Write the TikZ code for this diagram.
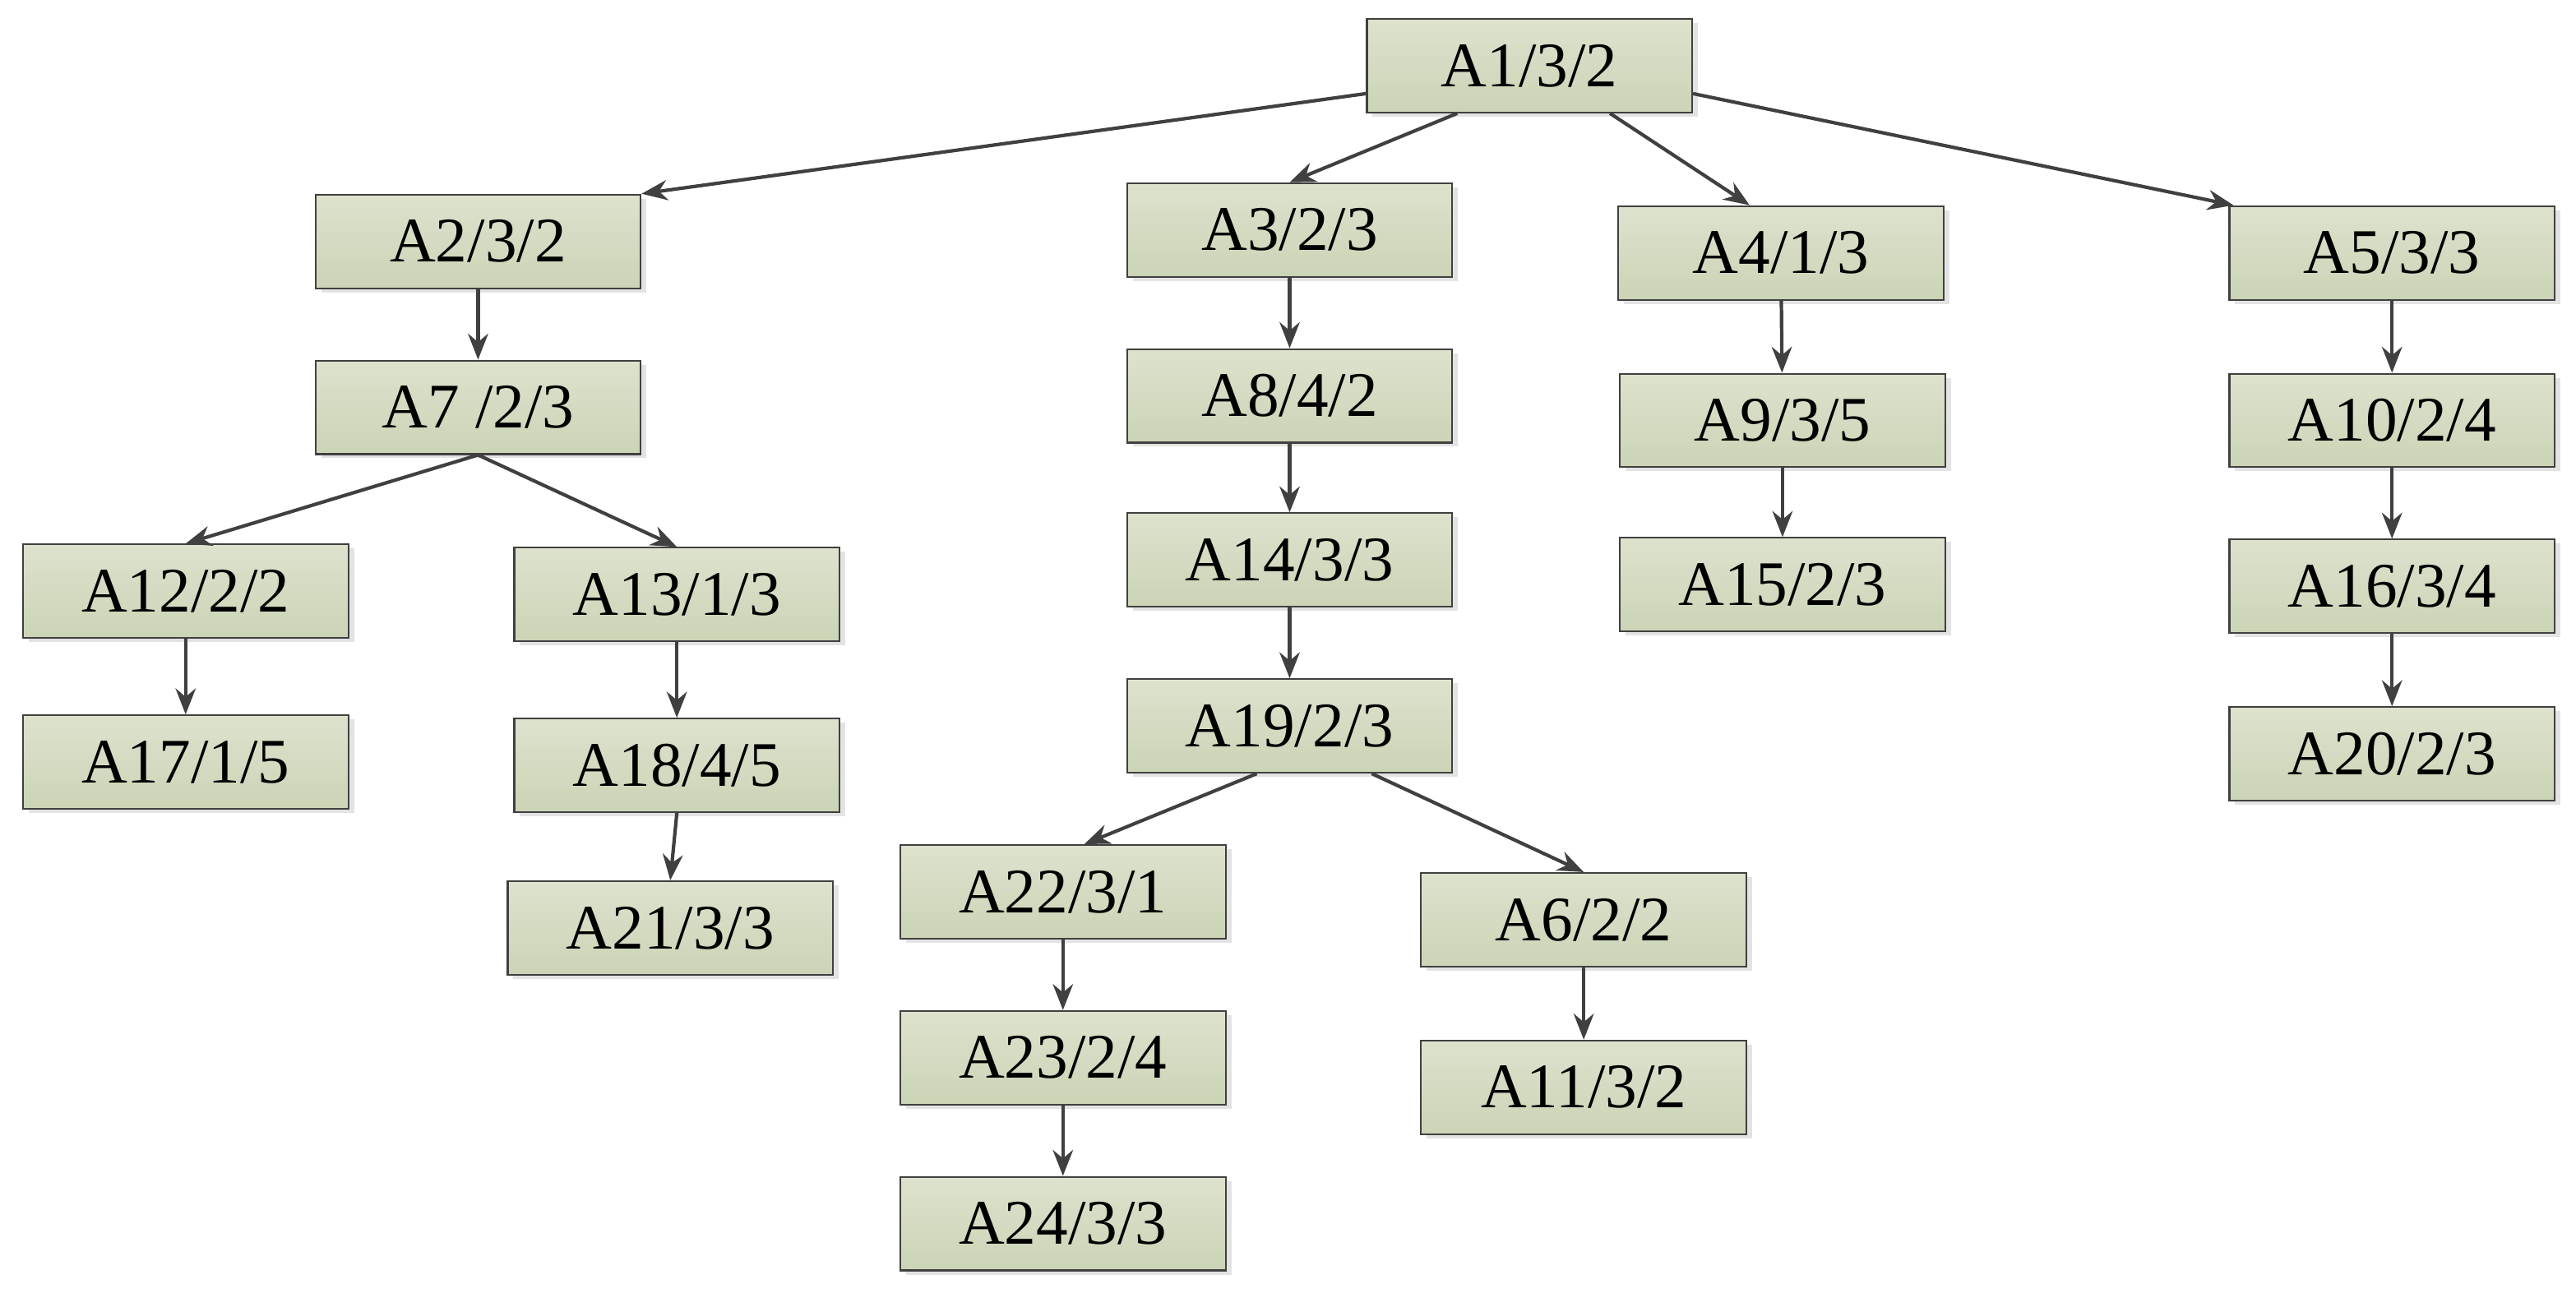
\documentclass[tikz,border=0pt]{standalone}
\usepackage{fontspec}
\setmainfont{Liberation Serif}
\usetikzlibrary{arrows.meta,shadows}
\definecolor{boxtop}{HTML}{DDE2CD}
\definecolor{boxbot}{HTML}{CBD4B6}
\definecolor{edge}{HTML}{404040}
\tikzset{
 bx/.style={draw=edge,line width=0.6pt,minimum width=3.96cm,minimum height=1.14cm,inner sep=0pt,
   top color=boxtop,bottom color=boxbot,font=\fontsize{22}{24}\selectfont,
   drop shadow={shadow xshift=0.07cm,shadow yshift=-0.05cm,fill=black!11,opacity=1}},
 ar/.style={draw=edge,line width=1.2pt,-{Stealth[length=9pt,width=7pt]}}
}
\begin{document}
\begin{tikzpicture}[x=0.02cm,y=-0.02cm]
\useasboundingbox (0,0) rectangle (1568,787);
\node[bx] (A1) at (931,40) {A1/3/2};
\node[bx] (A2) at (291,147) {A2/3/2};
\node[bx] (A3) at (785,140) {A3/2/3};
\node[bx] (A4) at (1084,154) {A4/1/3};
\node[bx] (A5) at (1456,154) {A5/3/3};
\node[bx] (A7) at (291,248) {A7 /2/3};
\node[bx] (A8) at (785,241) {A8/4/2};
\node[bx] (A9) at (1085,256) {A9/3/5};
\node[bx] (A10) at (1456,256) {A10/2/4};
\node[bx] (A12) at (113,360) {A12/2/2};
\node[bx] (A13) at (412,362) {A13/1/3};
\node[bx] (A14) at (785,341) {A14/3/3};
\node[bx] (A15) at (1085,356) {A15/2/3};
\node[bx] (A16) at (1456,357) {A16/3/4};
\node[bx] (A17) at (113,464) {A17/1/5};
\node[bx] (A18) at (412,466) {A18/4/5};
\node[bx] (A19) at (785,442) {A19/2/3};
\node[bx] (A20) at (1456,459) {A20/2/3};
\node[bx] (A21) at (408,565) {A21/3/3};
\node[bx] (A22) at (647,543) {A22/3/1};
\node[bx] (A6) at (964,560) {A6/2/2};
\node[bx] (A23) at (647,644) {A23/2/4};
\node[bx] (A11) at (964,662) {A11/3/2};
\node[bx] (A24) at (647,745) {A24/3/3};
\draw[ar] ([yshift=-0.34cm]A1.west) -- (A2.north east);
\draw[ar] ([xshift=-0.88cm]A1.south) -- (A3.north);
\draw[ar] ([xshift=0.98cm]A1.south) -- ([xshift=-0.38cm]A4.north);
\draw[ar] ([yshift=-0.34cm]A1.east) -- ([xshift=0.06cm]A5.north west);
\draw[ar] (A2) -- (A7);
\draw[ar] (A3) -- (A8);
\draw[ar] (A8) -- (A14);
\draw[ar] (A14) -- (A19);
\draw[ar] (A4) -- (A9);
\draw[ar] (A9) -- (A15);
\draw[ar] (A5) -- (A10);
\draw[ar] (A10) -- (A16);
\draw[ar] (A16) -- (A20);
\draw[ar] (A7.south) -- (A12.north);
\draw[ar] (A7.south) -- (A13.north);
\draw[ar] (A12) -- (A17);
\draw[ar] (A13) -- (A18);
\draw[ar] (A18.south) -- ([xshift=-0.08cm]A21.north -| A18.south);
\draw[ar] ([xshift=-0.4cm]A19.south) -- ([xshift=0.26cm]A22.north);
\draw[ar] ([xshift=1.0cm]A19.south) -- (A6.north);
\draw[ar] (A22) -- (A23);
\draw[ar] (A23) -- (A24);
\draw[ar] (A6) -- (A11);
\end{tikzpicture}
\end{document}
